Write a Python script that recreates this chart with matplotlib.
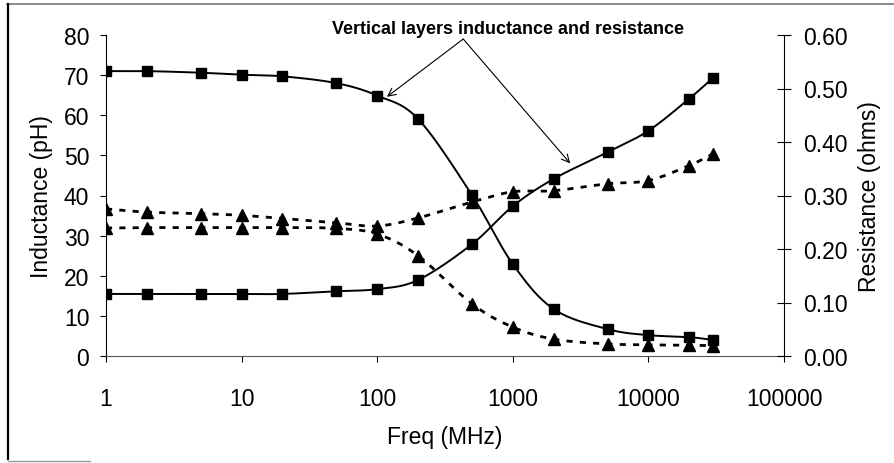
import numpy as np
import matplotlib
matplotlib.use("Agg")
import matplotlib.pyplot as plt
from matplotlib.lines import Line2D

plt.rcParams.update({
    "font.family": ["Liberation Sans", "DejaVu Sans"],
    "font.size": 16.5,
})

# --- data ---
freq_mhz = [1, 2, 5, 10, 20, 50, 100, 200, 500, 1000, 2000, 5000, 10000, 20000, 30000]

# inductance (pH), left axis
ind_square = [71.0, 71.0, 70.6, 70.1, 69.7, 68.0, 64.9, 59.1, 40.1, 22.9, 11.7, 6.7, 5.2, 4.7, 4.0]
ind_triangle = [31.9, 32.0, 32.0, 32.0, 32.0, 31.8, 30.4, 25.0, 13.0, 7.2, 4.2, 3.0, 2.8, 2.7, 2.6]

# resistance (ohms), right axis
res_square = [0.116, 0.116, 0.116, 0.116, 0.116, 0.121, 0.125, 0.142, 0.209,
              0.280, 0.331, 0.381, 0.421, 0.481, 0.520]
res_triangle = [0.275, 0.269, 0.266, 0.263, 0.257, 0.249, 0.243, 0.258, 0.288,
                0.307, 0.309, 0.322, 0.328, 0.356, 0.378]

left_ticks = [0, 10, 20, 30, 40, 50, 60, 70, 80]
right_ticks = [0.0, 0.1, 0.2, 0.3, 0.4, 0.5, 0.6]
x_ticks = [1, 10, 100, 1000, 10000, 100000]


def smooth(x, y, n=20):
    """Catmull-Rom curve through the points (in log-x space), like Excel's smoothed line."""
    lx = np.log10(x)
    y = np.asarray(y, float)
    px = np.concatenate([[2 * lx[0] - lx[1]], lx, [2 * lx[-1] - lx[-2]]])
    py = np.concatenate([[2 * y[0] - y[1]], y, [2 * y[-1] - y[-2]]])
    t = np.linspace(0, 1, n, endpoint=False)
    xs, ys = [], []
    for i in range(1, len(px) - 2):
        for p, out in ((px, xs), (py, ys)):
            p0, p1, p2, p3 = p[i - 1], p[i], p[i + 1], p[i + 2]
            out.extend(0.5 * (2 * p1 + (-p0 + p2) * t
                              + (2 * p0 - 5 * p1 + 4 * p2 - p3) * t ** 2
                              + (-p0 + 3 * p1 - 3 * p2 + p3) * t ** 3))
    xs.append(lx[-1])
    ys.append(y[-1])
    return 10 ** np.array(xs), np.array(ys)


fig = plt.figure(figsize=(8.94, 4.64), dpi=100)
ax = fig.add_axes([106 / 894, 1 - 357 / 464, (784 - 106) / 894, (357 - 36) / 464])
ax2 = ax.twinx()

solid = dict(color="black", lw=1.4)
dashed = dict(color="black", lw=2.0, linestyle=(0, (2.2, 2.6)))
sq = dict(marker="s", ms=7.5, color="black", linestyle="none")
tri = dict(marker="^", ms=8, color="black", linestyle="none")

ax.plot(*smooth(freq_mhz, ind_square), **solid)
ax.plot(freq_mhz, ind_square, **sq)
ax.plot(*smooth(freq_mhz, ind_triangle), **dashed)
ax.plot(freq_mhz, ind_triangle, **tri)

ax2.plot(*smooth(freq_mhz, res_square), **solid)
ax2.plot(freq_mhz, res_square, **sq)
ax2.plot(*smooth(freq_mhz, res_triangle), **dashed)
ax2.plot(freq_mhz, res_triangle, **tri)

ax.set_xscale("log")
ax.set_xlim(1, 100000)
ax.set_ylim(0, 80)
ax2.set_ylim(0, 0.6)
ax.set_xticks(x_ticks)
ax.set_xticklabels([str(v) for v in x_ticks])
ax.minorticks_off()
ax.set_yticks(left_ticks)
ax2.set_yticks(right_ticks)
ax2.set_yticklabels([f"{v:.2f}" for v in right_ticks])

for a in (ax, ax2):
    a.spines["top"].set_visible(False)
    for s in a.spines.values():
        s.set_linewidth(0.8)
ax.spines["right"].set_visible(False)
ax2.spines["left"].set_visible(False)
ax2.spines["bottom"].set_visible(False)
ax.spines["bottom"].set_color("#555555")

ax.tick_params(axis="y", direction="out", length=4, width=0.8, pad=8)
ax.tick_params(axis="x", direction="out", length=4, width=0.8, pad=18)
ax2.tick_params(axis="y", direction="inout", length=10, width=0.8, pad=9)

ax.set_xlabel("Freq (MHz)", labelpad=11)
ax.set_ylabel("Inductance (pH)", labelpad=8)
ax2.set_ylabel("Resistance (ohms)", labelpad=7)

# annotation with two arrows
ax2.text(508 / 894, 1 - 30 / 464, "Vertical layers inductance and resistance",
         transform=fig.transFigure, ha="center", va="center",
         fontsize=13, fontweight="bold")
arrow_kw = dict(arrowstyle="->", lw=0.8, color="black", shrinkA=0, shrinkB=0,
                mutation_scale=14)
ax.annotate("", xy=(118, 64.6), xytext=(431, 79.0), arrowprops=arrow_kw,
            annotation_clip=False)
ax.annotate("", xy=(2650, 48.0), xytext=(431, 79.0), arrowprops=arrow_kw,
            annotation_clip=False)

# scanned chart-area frame (partial)
fig.add_artist(Line2D([7 / 894, 1], [1 - 5 / 464] * 2, transform=fig.transFigure,
                      color="#777777", lw=1.2))
fig.add_artist(Line2D([8 / 894] * 2, [1 - 5 / 464, 1 - 460 / 464],
                      transform=fig.transFigure, color="black", lw=1.6))
fig.add_artist(Line2D([8 / 894, 90 / 894], [1 - 462 / 464] * 2,
                      transform=fig.transFigure, color="#999999", lw=1.0))

fig.savefig("out.png", dpi=100)
